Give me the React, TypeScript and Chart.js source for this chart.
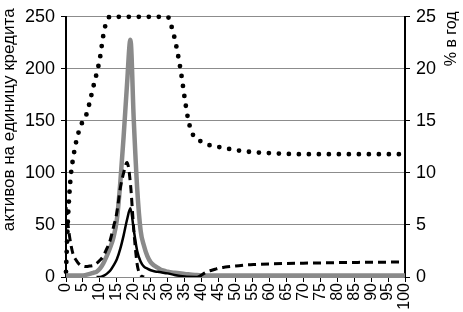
import React, { useEffect, useRef } from "react";
import { Chart, registerables } from "chart.js";

Chart.register(...registerables);

const leftTitle = "активов на единицу кредита";
const rightTitle = "% в год";

// Dotted series (left axis, assets per unit of credit)
const dottedX = [0, 0.5, 1, 1.5, 2, 3, 4, 5, 6, 7, 8, 9, 10, 11, 12, 13, 30, 31, 32, 33, 34, 35, 36, 37, 38, 40, 42, 45, 50, 55, 60, 70, 80, 100];
const dottedY = [5, 50, 80, 100, 112, 130, 142, 150, 156, 168, 182, 195, 210, 232, 246, 250, 250, 242, 230, 214, 195, 172, 152, 140, 134, 130, 127, 125, 122, 120, 119, 118, 118, 118];

// Gray thick series (right axis, % per year)
const grayX = [0, 5, 7, 8, 9, 10, 11, 12, 13, 14, 15, 16, 17, 18, 19, 20, 21, 22, 23, 24, 25, 26, 27, 28, 29, 30, 32, 35, 38, 40, 100];
const grayY = [0.15, 0.15, 0.3, 0.4, 0.5, 0.8, 1.3, 2.0, 2.8, 3.8, 5.5, 9.0, 13.5, 18.5, 22.8, 15.0, 8.5, 4.5, 3.0, 2.0, 1.4, 1.1, 0.9, 0.7, 0.6, 0.5, 0.4, 0.3, 0.2, 0.15, 0.15];

// Dashed series (right axis)
const dashedX = [0, 1, 2, 3, 4, 5, 6, 7, 8, 9, 10, 11, 12, 13, 14, 15, 16, 17, 18, 19, 20, 21, 22, 23, 30, 39, 40, 41, 42, 43, 44, 45, 47, 50, 53, 56, 60, 65, 70, 75, 80, 85, 90, 95, 100];
const dashedY: (number | null)[] = [6.7, 4.0, 2.3, 1.6, 1.2, 1.05, 1.0, 1.05, 1.1, 1.3, 1.6, 2.0, 2.7, 3.5, 4.8, 6.2, 8.5, 10.0, 11.0, 9.0, 4.5, 1.2, 0.2, 0, null, 0, 0.2, 0.4, 0.55, 0.65, 0.75, 0.85, 0.95, 1.05, 1.15, 1.2, 1.25, 1.3, 1.33, 1.35, 1.38, 1.4, 1.42, 1.43, 1.45];

// Solid black series (right axis)
const solidX = [9, 10, 11, 12, 13, 14, 15, 16, 17, 18, 19, 20, 21, 22, 23, 24, 25, 26, 27, 28, 30, 32, 35, 40];
const solidY = [0, 0, 0.1, 0.3, 0.6, 1.1, 1.7, 2.7, 4.0, 5.5, 6.6, 4.5, 2.5, 1.5, 1.0, 0.8, 0.65, 0.55, 0.5, 0.45, 0.35, 0.2, 0.05, 0];

const pts = (xs: number[], ys: (number | null)[]) => xs.map((x, i) => ({ x, y: ys[i] }));

const FONT = "'Liberation Sans', Arial, sans-serif";

const titlePlugin = {
  id: "sideTitles",
  afterDraw(chart: any) {
    const ctx = chart.ctx;
    const area = chart.chartArea;
    ctx.save();
    ctx.fillStyle = "#000";
    ctx.font = `17px ${FONT}`;
    ctx.textAlign = "center";
    ctx.textBaseline = "middle";
    ctx.translate(9, area.top + 103);
    ctx.rotate(-Math.PI / 2);
    ctx.fillText(leftTitle, 0, 0);
    ctx.restore();

    ctx.save();
    ctx.fillStyle = "#000";
    ctx.font = `16px ${FONT}`;
    ctx.textAlign = "center";
    ctx.textBaseline = "middle";
    ctx.translate(452, area.top + 22);
    ctx.rotate(-Math.PI / 2);
    ctx.fillText(rightTitle, 0, 0);
    ctx.restore();
  },
};

export default function App() {
  const ref = useRef<HTMLCanvasElement | null>(null);
  useEffect(() => {
    if (!ref.current) return;
    const chart = new Chart(ref.current, {
      type: "line",
      data: {
        datasets: [
          {
            data: pts(solidX, solidY),
            yAxisID: "y1",
            borderColor: "#000",
            borderWidth: 2.5,
            pointRadius: 0,
            cubicInterpolationMode: "monotone",
            fill: false,
          },
          {
            data: pts(dashedX, dashedY),
            yAxisID: "y1",
            borderColor: "#000",
            borderWidth: 3,
            borderDash: [8, 5],
            pointRadius: 0,
            cubicInterpolationMode: "monotone",
            spanGaps: false,
            fill: false,
          },
          {
            data: pts(grayX, grayY),
            yAxisID: "y1",
            borderColor: "#8a8a8a",
            borderWidth: 4.5,
            pointRadius: 0,
            cubicInterpolationMode: "monotone",
            fill: false,
            clip: false,
          },
          {
            data: pts(dottedX, dottedY),
            yAxisID: "y",
            borderColor: "#000",
            borderWidth: 4.8,
            borderDash: [0, 10],
            borderCapStyle: "round",
            pointRadius: 0,
            cubicInterpolationMode: "monotone",
            fill: false,
            clip: false,
          },
        ],
      },
      options: {
        animation: false,
        responsive: false,
        maintainAspectRatio: false,
        layout: { padding: { top: 15, left: 0, right: 0, bottom: 0 } },
        plugins: { legend: { display: false }, tooltip: { enabled: false } },
        scales: {
          x: {
            type: "linear",
            position: "bottom",
            min: 0,
            max: 100,
            ticks: {
              stepSize: 5,
              autoSkip: false,
              maxRotation: 90,
              minRotation: 90,
              color: "#000",
              padding: 1,
              font: { family: FONT, size: 16 },
            },
            grid: { drawOnChartArea: false, drawTicks: true, tickLength: 5, tickColor: "#000" },
            border: { color: "#8a8a8a", width: 1 },
            afterFit: (s: any) => { s.height = 35; },
          },
          y: {
            position: "left",
            min: 0,
            max: 250,
            ticks: { stepSize: 50, color: "#000", padding: 6, font: { family: FONT, size: 18 } },
            grid: {
              color: (c: any) => (c.tick && c.tick.value === 0 ? "rgba(0,0,0,0)" : "#8c8c8c"),
              lineWidth: 1,
              tickLength: 5,
              tickColor: "#000",
            },
            border: { color: "#000", width: 2 },
            afterFit: (s: any) => { s.width = 66; },
          },
          y1: {
            position: "right",
            min: 0,
            max: 25,
            ticks: { stepSize: 5, color: "#000", padding: 6, font: { family: FONT, size: 18 } },
            grid: { drawOnChartArea: false, tickLength: 5, tickColor: "#000" },
            border: { color: "#000", width: 2 },
            afterFit: (s: any) => { s.width = 58; },
          },
        },
      },
      plugins: [titlePlugin],
    } as any);
    return () => chart.destroy();
  }, []);
  return (
    <div style={{ position: "absolute", left: 0, top: 0, width: 463, height: 312, background: "#fff" }}>
      <canvas ref={ref} width={463} height={312} />
    </div>
  );
}
